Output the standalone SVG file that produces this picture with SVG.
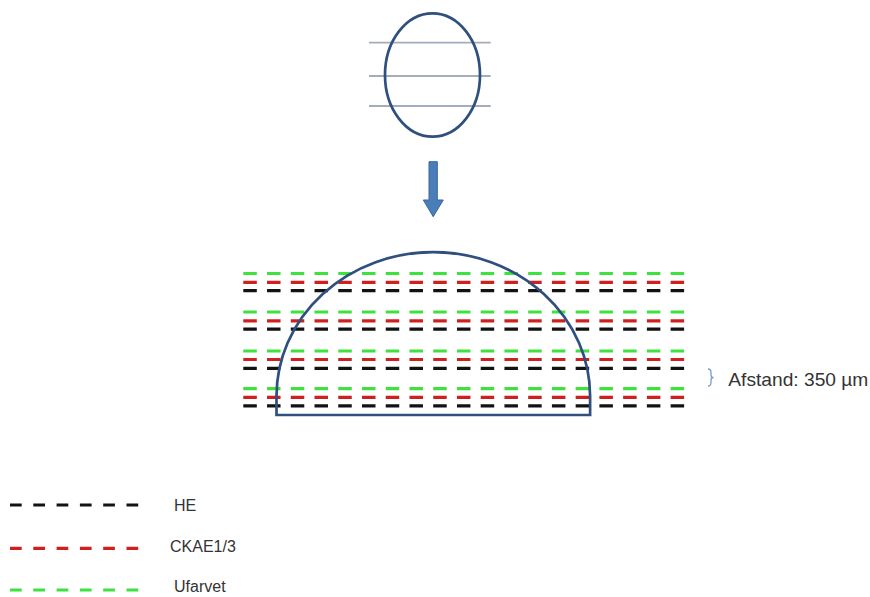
<svg xmlns="http://www.w3.org/2000/svg" width="870" height="597" viewBox="0 0 870 597">
<defs>
<style>
.cut{fill:none;stroke-width:3.2;stroke-dasharray:13.5 10.24}
.g{stroke:#3ee23e}
.r{stroke:#d01f1f}
.k{stroke:#121212}
.leg{fill:none;stroke-width:3.2;stroke-dasharray:11.7 11.6}
.outline{fill:none;stroke:#2f4f7f;stroke-width:2.7}
.sec{stroke:#a3adbb;stroke-width:1.8}
.lbl{font-family:"Liberation Sans",Arial,sans-serif;fill:#333333}
</style>
</defs>
<rect width="870" height="597" fill="#ffffff"/>

<g id="specimen">
<line class="sec" x1="369" y1="42.7" x2="490.7" y2="42.7"/>
<line class="sec" x1="369" y1="76" x2="490.7" y2="76"/>
<line class="sec" x1="369" y1="106" x2="490.7" y2="106"/>
<ellipse class="outline" cx="432.5" cy="75" rx="47.5" ry="61.7"/>
</g>

<g id="connectors">
<path d="M429,161.7 L437.3,161.7 L437.3,200 L443.3,200 L433.2,216.7 L423.3,200 L429,200 Z" fill="#4a7ebb" stroke="#3a6699" stroke-width="1"/>
</g>

<g id="sections">
<line class="cut g" x1="243.3" y1="273.5" x2="684.5" y2="273.5"/>
<line class="cut r" x1="243.3" y1="282.3" x2="684.5" y2="282.3"/>
<line class="cut k" x1="243.3" y1="290.7" x2="684.5" y2="290.7"/>
<line class="cut g" x1="243.3" y1="312" x2="684.5" y2="312"/>
<line class="cut r" x1="243.3" y1="320.8" x2="684.5" y2="320.8"/>
<line class="cut k" x1="243.3" y1="329.2" x2="684.5" y2="329.2"/>
<line class="cut g" x1="243.3" y1="351" x2="684.5" y2="351"/>
<line class="cut r" x1="243.3" y1="359.5" x2="684.5" y2="359.5"/>
<line class="cut k" x1="243.3" y1="368.3" x2="684.5" y2="368.3"/>
<line class="cut g" x1="243.3" y1="388.7" x2="684.5" y2="388.7"/>
<line class="cut r" x1="243.3" y1="397.3" x2="684.5" y2="397.3"/>
<line class="cut k" x1="243.3" y1="405.9" x2="684.5" y2="405.9"/>
</g>

<g id="half-specimen">
<path class="outline" d="M276.5,415 L276.5,396 A156.8,144 0 0 1 590.1,396 L590.1,415 Z"/>
</g>

<g id="distance-label">
<path d="M708,369 Q711,369 711,372.5 L711,375 Q711,377.5 713.5,377.5 Q711,377.5 711,380 L711,382.5 Q711,386 708,386" fill="none" stroke="#7f9cc6" stroke-width="1.3"/>
<text class="lbl" x="728.3" y="386" font-size="18.5" textLength="140" lengthAdjust="spacingAndGlyphs">Afstand: 350 µm</text>
</g>

<g id="legend-he">
<line class="leg k" x1="10" y1="505" x2="138.3" y2="505"/>
<text class="lbl" x="174" y="511" font-size="16">HE</text>
</g>
<g id="legend-ckae">
<line class="leg r" x1="10" y1="548.3" x2="138.3" y2="548.3"/>
<text class="lbl" x="170" y="552" font-size="16">CKAE1/3</text>
</g>
<g id="legend-ufarvet">
<line class="leg g" x1="10" y1="590" x2="138.3" y2="590"/>
<text class="lbl" x="174" y="592" font-size="16">Ufarvet</text>
</g>
</svg>
